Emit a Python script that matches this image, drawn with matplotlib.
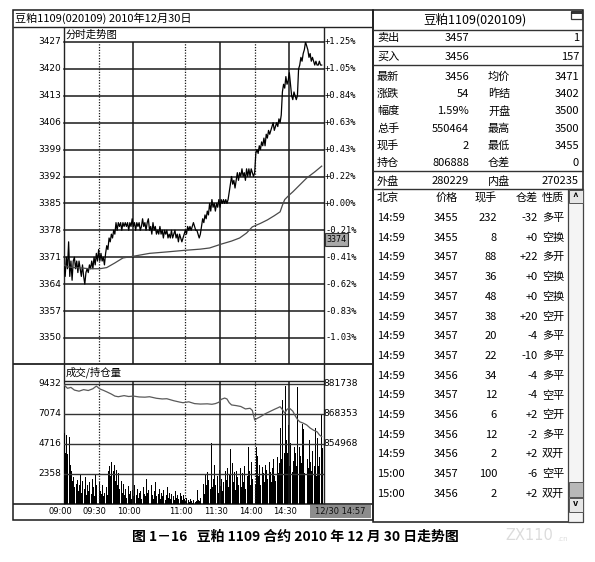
import matplotlib.pyplot as plt
from matplotlib.patches import Rectangle

plt.rcParams['font.family'] = ['Noto Sans CJK SC', 'DejaVu Sans']

# ---- data ----
price_levels = [3427, 3420, 3413, 3406, 3399, 3392, 3385, 3378, 3371, 3364, 3357, 3350]
pct_labels = ['+1.25%', '+1.05%', '+0.84%', '+0.63%', '+0.43%', '+0.22%', '+0.00%',
              '-0.21%', '-0.41%', '-0.62%', '-0.83%', '-1.03%']
vol_levels = [9432, 7074, 4716, 2358]
oi_labels = ['881738', '868353', '854968']
time_labels = ['09:00', '09:30', '10:00', '11:00', '11:30', '14:00', '14:30']
time_minutes = [0, 30, 60, 105, 135, 165, 195]
grid_minutes = [30, 60, 105, 135, 165, 195]
grid_dotted = [True, False, True, False, True, False]

# minute-by-minute last price
price = [3369, 3366, 3371, 3368, 3375, 3366, 3370, 3365, 3370, 3371,
         3368, 3370, 3367, 3370, 3368, 3366, 3369, 3366, 3364, 3367,
         3368, 3367, 3369, 3368, 3370, 3368, 3371, 3369, 3372, 3370,
         3373, 3370, 3372, 3370, 3371, 3369, 3372, 3374, 3373, 3376,
         3375, 3377, 3376, 3378, 3377, 3380, 3378, 3380, 3379, 3380,
         3378, 3380, 3379, 3380, 3379, 3380, 3378, 3380, 3379, 3381,
         3379, 3380, 3378, 3380, 3379, 3380, 3378, 3379, 3381, 3379,
         3380, 3378, 3380, 3381, 3378, 3379, 3377, 3380, 3378, 3379,
         3377, 3378, 3377, 3379, 3377, 3378, 3376, 3378, 3377, 3378,
         3376, 3377, 3376, 3378, 3376, 3377, 3378, 3376, 3377, 3375,
         3377, 3376, 3375, 3376, 3377, 3378, 3377, 3379, 3378, 3379,
         3378, 3379, 3380, 3379, 3378, 3378, 3377, 3376, 3377, 3379,
         3381, 3380, 3382, 3381, 3383, 3382, 3385, 3383, 3386, 3384,
         3385, 3383, 3385, 3384, 3386, 3384, 3386, 3385, 3386, 3385,
         3386, 3385, 3386, 3388, 3390, 3392, 3390, 3391, 3389, 3391,
         3393, 3391, 3393, 3392, 3394, 3392, 3393, 3391, 3394, 3392,
         3394, 3392, 3394, 3393, 3392, 3393, 3398, 3399, 3398, 3400,
         3399, 3401, 3400, 3402, 3400, 3403, 3402, 3404, 3403, 3404,
         3405, 3406, 3404, 3405, 3406, 3405, 3407, 3406, 3408, 3414,
         3416, 3415, 3418, 3416, 3417, 3419, 3416, 3413, 3412, 3414,
         3413, 3412, 3413, 3420, 3421, 3423, 3422, 3424, 3425, 3427,
         3426, 3425, 3423, 3424, 3422, 3423, 3422, 3421, 3422, 3421,
         3421, 3422, 3421, 3421]

avg_min = [0, 3, 8, 15, 22, 31, 37, 44, 51, 61, 74, 90, 105, 118, 126, 136,
           145, 152, 158, 163, 170, 176, 182, 187, 189, 191, 195, 198, 204, 210, 217, 223]
avg_price = [3369, 3368.5, 3368.3, 3368.2, 3368, 3368, 3368.3, 3369.5, 3370.8, 3371.3,
             3372, 3372.4, 3372.8, 3373.1, 3373.4, 3374.4, 3375.2, 3376, 3377.3, 3378.9,
             3379.8, 3380.7, 3381.8, 3382.8, 3384.5, 3386, 3387.2, 3388, 3389.8, 3391.6,
             3393.2, 3394.7]

volume = [5600, 4000, 5400, 3900, 5300, 3100, 2600, 1800, 2100, 1300,
          1600, 1900, 1000, 1500, 2300, 900, 1800, 1200, 2100, 700,
          1500, 1000, 1700, 800, 2000, 1300, 600, 2300, 1500, 2100,
          1700, 1000, 800, 1500, 600, 900, 1300, 700, 2600, 3000,
          2200, 3300, 2600, 3100, 1800, 2700, 1500, 2400, 1200, 1800,
          900, 1600, 700, 1200, 500, 1400, 800, 1000, 400, 1100,
          600, 1500, 700, 1200, 500, 900, 1000, 400, 1300, 800,
          600, 2000, 900, 1100, 500, 1500, 700, 400, 1000, 1700,
          600, 800, 1200, 400, 900, 600, 1100, 300, 700, 1300,
          500, 900, 400, 800, 600, 300, 1000, 500, 700, 400,
          900, 600, 300, 700, 400, 200, 500, 300, 150, 400,
          200, 100, 300, 150, 200, 1100, 300, 200, 500, 900,
          1600, 800, 2300, 1500, 2500, 1900, 1200, 4800, 1300, 2000,
          3100, 1500, 2200, 900, 2700, 1400, 2000, 1000, 1700, 2600,
          1900, 2800, 1300, 2300, 4300, 3200, 1700, 2500, 1100, 2600,
          2100, 1500, 2800, 1300, 2400, 1700, 3000, 1200, 2200, 4500,
          2600, 1500, 3300, 2000, 2800, 1600, 4500, 3800, 2200, 3100,
          1500, 2900, 2400, 1700, 3100, 2700, 2000, 3300, 2500, 1700,
          2800, 3500, 2200, 1800, 3700, 2400, 3200, 6000, 3500, 8200,
          4000, 9300, 5000, 4000, 6200, 3000, 4800, 2500, 3400, 4500,
          4000, 3000, 9200, 4500, 3800, 3200, 6300, 5900, 2400, 4700,
          3500, 2800, 5000, 3300, 2600, 4200, 3000, 6000, 2200, 5200,
          3000, 3700, 7000, 4400]

oi_min = [0, 3, 6, 9, 13, 17, 21, 25, 28, 31, 34, 37, 41, 44, 47, 52, 56, 60, 65, 70,
          74, 80, 85, 89, 95, 100, 103, 108, 113, 118, 124, 128, 131, 134, 136, 139, 141,
          143, 145, 149, 153, 157, 161, 163, 165, 167, 170, 174, 178, 182, 185, 187, 189,
          191, 193, 195, 198, 200, 202, 204, 207, 210, 213, 216, 219, 221, 223]
open_interest = [881300, 879800, 880200, 879000, 878500, 879200, 878800, 879600, 880800, 879500,
                 878900, 878200, 877200, 876300, 876000, 876500, 876100, 876300, 875900, 875800,
                 876000, 875300, 875000, 875100, 874200, 873600, 873300, 873700, 872900, 872700,
                 872800, 872600, 872900, 873500, 874800, 875400, 875000, 873300, 872300, 872000,
                 871600, 870500, 870800, 869800, 865500, 866200, 867000, 868300, 869300, 870300,
                 871000, 871500, 870200, 868600, 870300, 870900, 869500, 867500, 865800, 864700,
                 864100, 863300, 861900, 860900, 860200, 858800, 858000]

quote_l_lab = ['最新', '涨跌', '幅度', '总手', '现手', '持仓']
quote_l_val = ['3456', '54', '1.59%', '550464', '2', '806888']
quote_r_lab = ['均价', '昨结', '开盘', '最高', '最低', '仓差']
quote_r_val = ['3471', '3402', '3500', '3500', '3455', '0']

tick_time = ['14:59'] * 13 + ['15:00', '15:00']
tick_price = ['3455', '3455', '3457', '3457', '3457', '3457', '3457', '3457',
              '3456', '3457', '3456', '3456', '3456', '3457', '3456']
tick_vol = ['232', '8', '88', '36', '48', '38', '20', '22', '34', '12', '6', '12', '2', '100', '2']
tick_diff = ['-32', '+0', '+22', '+0', '+0', '+20', '-4', '-10', '-4', '-4', '+2', '-2', '+2', '-6', '+2']
tick_kind = ['多平', '空换', '多开', '空换', '空换', '空开', '多平', '多平',
             '多平', '空平', '空开', '多平', '双开', '空平', '双开']

# ---- figure ----
W, H = 595, 562
fig = plt.figure(figsize=(W / 100, H / 100), dpi=100)
bg = fig.add_axes([0, 0, 1, 1])
bg.set_xlim(0, W)
bg.set_ylim(H, 0)
bg.axis('off')


def box(x0, y0, x1, y1):
    return [x0 / W, 1 - y1 / H, (x1 - x0) / W, (y1 - y0) / H]


def seg(x0, y0, x1, y1, c='#222', lw=1.0):
    bg.plot([x0, x1], [y0, y1], color=c, lw=lw, solid_capstyle='butt')


LINE = '#1a1a1a'
X0, X1 = 64, 324

# outer frames
bg.add_patch(Rectangle((13, 9.5), 360, 510.5, fill=False, ec=LINE, lw=1.1))
bg.add_patch(Rectangle((373, 9.5), 210, 512, fill=False, ec=LINE, lw=1.1))
seg(13, 27, 373, 27)
seg(X0, 27, X0, 504)
seg(X1, 27, X1, 504)
seg(13, 364, 373, 364, lw=1.3)
seg(X0, 381, X1, 381)
seg(13, 504, 373, 504, lw=1.2)

bg.text(15, 18, '豆粕1109(020109) 2010年12月30日', fontsize=8, va='center', ha='left')
bg.text(66, 34.5, '分时走势图', fontsize=7.5, va='center', ha='left')
bg.text(66, 372.5, '成交/持仓量', fontsize=7.5, va='center', ha='left')

# ---- price panel ----
ax = fig.add_axes(box(X0, 42, X1, 364))
ax.patch.set_alpha(0)
ax.axis('off')
ax.set_xlim(0, 225)
ax.set_ylim(3427 - (364 - 42) * 7 / 26.9, 3427)
for p, lab in zip(price_levels, pct_labels):
    ax.axhline(p, color=LINE, lw=1.1, clip_on=False)
    ax.text(-3 / 260, p, str(p), transform=ax.get_yaxis_transform(),
            ha='right', va='center', fontsize=6.5, family='DejaVu Sans')
    ax.text(1 + 1 / 260, p, lab, transform=ax.get_yaxis_transform(),
            ha='left', va='center', fontsize=6.3, family='DejaVu Sans Mono')
for m, dotted in zip(grid_minutes, grid_dotted):
    ax.axvline(m, color=LINE, lw=0.9 if dotted else 1.1, ls=(0, (1, 1.2)) if dotted else '-')
ax.plot(range(len(price)), price, color='black', lw=0.9)
ax.plot(avg_min, avg_price, color='#4a4a4a', lw=0.9)

# ---- volume / open interest panel ----
vax = fig.add_axes(box(X0, 381, X1, 504))
vax.patch.set_alpha(0)
vax.axis('off')
vax.set_xlim(0, 225)
vax.set_ylim(0, 9432 * 123 / 120)
for v in vol_levels:
    vax.axhline(v, color='#333333', lw=1.0)
    vax.text(-3 / 260, v, str(v), transform=vax.get_yaxis_transform(),
             ha='right', va='center', fontsize=6.5, family='DejaVu Sans')
for v, lab in zip(vol_levels[:3], oi_labels):
    vax.text(1 - 1 / 260, v, lab, transform=vax.get_yaxis_transform(),
             ha='left', va='center', fontsize=6.5, family='DejaVu Sans')
for m, dotted in zip(grid_minutes, grid_dotted):
    vax.axvline(m, color=LINE, lw=0.9 if dotted else 1.1, ls=(0, (1, 1.2)) if dotted else '-')
vax.bar(range(len(volume)), volume, width=0.85, color='black', align='edge', lw=0)

oax = vax.twinx()
oax.axis('off')
oax.set_ylim(881738 - 120 * 450.7, 881738 + 3 * 450.7)
oax.plot(oi_min, open_interest, color='#5a5a5a', lw=0.9)

# overlay layer for tags that sit on top of the panels
top = fig.add_axes([0, 0, 1, 1])
top.set_xlim(0, W)
top.set_ylim(H, 0)
top.axis('off')
top.add_patch(Rectangle((325, 233), 23, 12.5, fc='#a8a8a8', ec='#333', lw=0.8))
top.text(336.5, 239.5, '3374', fontsize=5.8, ha='center', va='center', family='DejaVu Sans')

# time axis
for m, lab in zip(time_minutes, time_labels):
    bg.text(X0 + m * 260 / 225 - 4, 511.5, lab, fontsize=6, ha='center', va='center',
            family='DejaVu Sans')
bg.add_patch(Rectangle((310, 505), 61, 13, fc='#8c8c8c', ec='none'))
bg.text(340.5, 511.5, '12/30 14:57', fontsize=6, ha='center', va='center',
        family='DejaVu Sans', color='#111')

# ---- right quote panel ----
bg.text(475, 20, '豆粕1109(020109)', fontsize=9, ha='center', va='center')
bg.add_patch(Rectangle((571, 10.5), 11, 8, fill=False, ec='#333', lw=0.9))
seg(571, 13, 582, 13, lw=1.3)
for yy in (30, 46, 65, 171, 189):
    seg(373, yy, 583, yy, c='#333', lw=1.0)

FS = 8
bg.text(377, 38, '卖出', fontsize=FS, va='center')
bg.text(469, 38, '3457', fontsize=FS, va='center', ha='right')
bg.text(579, 38, '1', fontsize=FS, va='center', ha='right')
bg.text(377, 56.5, '买入', fontsize=FS, va='center')
bg.text(469, 56.5, '3456', fontsize=FS, va='center', ha='right')
bg.text(579, 56.5, '157', fontsize=FS, va='center', ha='right')
for i in range(len(quote_l_lab)):
    yy = 76.7 + i * 17.3
    bg.text(377, yy, quote_l_lab[i], fontsize=FS, va='center')
    bg.text(469, yy, quote_l_val[i], fontsize=FS, va='center', ha='right')
    bg.text(488, yy, quote_r_lab[i], fontsize=FS, va='center')
    bg.text(579, yy, quote_r_val[i], fontsize=FS, va='center', ha='right')
bg.text(377, 181.5, '外盘', fontsize=FS, va='center')
bg.text(469, 181.5, '280229', fontsize=FS, va='center', ha='right')
bg.text(488, 181.5, '内盘', fontsize=FS, va='center')
bg.text(579, 181.5, '270235', fontsize=FS, va='center', ha='right')

# tick list
bg.text(377, 198, '北京', fontsize=FS, va='center')
bg.text(458, 198, '价格', fontsize=FS, va='center', ha='right')
bg.text(497, 198, '现手', fontsize=FS, va='center', ha='right')
bg.text(538, 198, '仓差', fontsize=FS, va='center', ha='right')
bg.text(542, 198, '性质', fontsize=FS, va='center', ha='left')
for i in range(len(tick_time)):
    yy = 218 + i * 19.7
    bg.text(377, yy, tick_time[i], fontsize=FS, va='center')
    bg.text(458, yy, tick_price[i], fontsize=FS, va='center', ha='right')
    bg.text(497, yy, tick_vol[i], fontsize=FS, va='center', ha='right')
    bg.text(538, yy, tick_diff[i], fontsize=FS, va='center', ha='right')
    bg.text(542, yy, tick_kind[i], fontsize=FS, va='center', ha='left')

# scrollbar
bg.add_patch(Rectangle((568, 189), 15, 333, fc='#f4f4f4', ec='#444', lw=0.9))
bg.add_patch(Rectangle((568.5, 190), 14, 13, fc='#e6e6e6', ec='#555', lw=0.7))
bg.text(575.5, 197, '^', fontsize=7, ha='center', va='center', fontweight='bold')
bg.add_patch(Rectangle((568.5, 482), 14, 15, fc='#b8b8b8', ec='#555', lw=0.7))
bg.add_patch(Rectangle((568.5, 498), 14, 14, fc='#e6e6e6', ec='#555', lw=0.7))
bg.text(575.5, 504, 'v', fontsize=6.5, ha='center', va='center', fontweight='bold')

# caption and watermark
bg.text(295, 537, '图 1－16   豆粕 1109 合约 2010 年 12 月 30 日走势图',
        fontsize=10, fontweight='bold', ha='center', va='center')
bg.text(505, 536, 'ZX110', fontsize=10.5, color='#dcdcdc', ha='left', va='center',
        family='DejaVu Sans')
bg.text(557, 539, '.cn', fontsize=5, color='#dcdcdc', ha='left', va='center',
        family='DejaVu Sans')

fig.savefig('out.png', dpi=100)
